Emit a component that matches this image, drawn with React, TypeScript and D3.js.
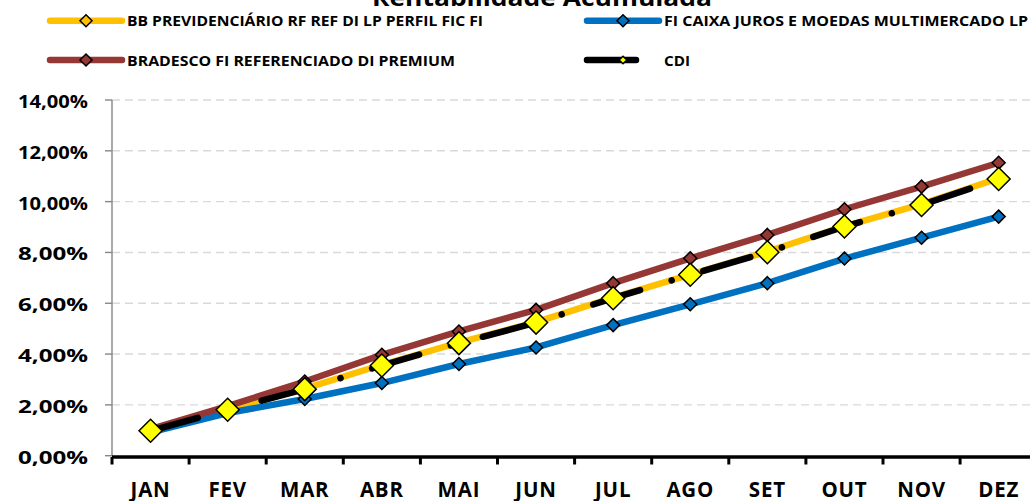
import React from "react";
import * as d3 from "d3";

const months = ["JAN", "FEV", "MAR", "ABR", "MAI", "JUN", "JUL", "AGO", "SET", "OUT", "NOV", "DEZ"];
const bbValues = [0.97, 1.8, 2.64, 3.58, 4.45, 5.26, 6.22, 7.13, 8.03, 9.03, 9.9, 10.92];
const caixaValues = [0.92, 1.68, 2.23, 2.86, 3.61, 4.26, 5.14, 5.96, 6.79, 7.76, 8.58, 9.41];
const bradescoValues = [1.05, 1.95, 2.92, 3.97, 4.89, 5.74, 6.79, 7.77, 8.69, 9.7, 10.59, 11.53];
const cdiValues = [0.98, 1.81, 2.62, 3.55, 4.43, 5.24, 6.2, 7.12, 8.01, 9.02, 9.87, 10.89];
const yTicks = [0, 2, 4, 6, 8, 10, 12, 14];
const title = "Rentabilidade Acumulada";

type Series = {
  name: string;
  values: number[];
  color: string;
  markerFill: string;
  markerR: number;
  legendMarkerR: number;
  dash?: string;
  legendX: number;
  legendY: number;
  legendLen: number;
  textLen: number;
};

const series: Series[] = [
  { name: "BB PREVIDENCIÁRIO RF REF DI LP PERFIL FIC FI", values: bbValues, color: "#FFC000", markerFill: "#FFC000", markerR: 6.5, legendMarkerR: 6, legendX: 50, legendY: 20.7, legendLen: 72, textLen: 356 },
  { name: "FI CAIXA JUROS E MOEDAS MULTIMERCADO LP", values: caixaValues, color: "#0070C0", markerFill: "#0070C0", markerR: 6.5, legendMarkerR: 6, legendX: 587, legendY: 20.7, legendLen: 72, textLen: 364 },
  { name: "BRADESCO FI REFERENCIADO DI PREMIUM", values: bradescoValues, color: "#953735", markerFill: "#953735", markerR: 6.5, legendMarkerR: 6, legendX: 50, legendY: 60, legendLen: 72, textLen: 328 },
  { name: "CDI", values: cdiValues, color: "#000000", markerFill: "#FFFF00", markerR: 11.5, legendMarkerR: 3.8, dash: "49,33,0.1,33", legendX: 587, legendY: 60, legendLen: 72, textLen: 26 },
];

const W = 1030;
const H = 501;
const plotLeft = 112;
const step = 77.1;
const plotRight = plotLeft + step * 12;
const yTop = 100;
const yBottom = 455.7;

const FONT = "'Open Sans', 'Noto Sans', sans-serif";

function diamond(r: number) {
  return `M0,${-r}L${r},0L0,${r}L${-r},0Z`;
}

export default function App() {
  const x = d3.scaleBand<string>().domain(months).range([plotLeft, plotRight]).paddingInner(0).paddingOuter(0);
  const y = d3.scaleLinear().domain([0, 14]).range([yBottom, yTop]);
  const cx = (m: string) => (x(m) as number) + x.bandwidth() / 2;
  const line = d3
    .line<number>()
    .x((_, i) => cx(months[i]))
    .y((v) => y(v));

  return (
    <svg width={W} height={H} style={{ position: "absolute", left: 0, top: 0, background: "#fff" }} fontFamily={FONT}>
      {/* title (partially cut off) */}
      <text x={542} y={5.5} textAnchor="middle" fontSize={24} fontWeight={700} textLength={340} lengthAdjust="spacingAndGlyphs">
        {title}
      </text>

      {/* legend */}
      {series.map((s) => (
        <g key={"lg" + s.name}>
          <line
            x1={s.legendX}
            x2={s.legendX + s.legendLen}
            y1={s.legendY}
            y2={s.legendY}
            stroke={s.color}
            strokeWidth={6.5}
            strokeLinecap="round"
            strokeDasharray={s.dash}
          />
          <path
            d={diamond(s.legendMarkerR)}
            transform={`translate(${s.legendX + 36},${s.legendY})`}
            fill={s.markerFill}
            stroke="#000"
            strokeWidth={1.5}
          />
          <text
            x={s.legendX + 77}
            y={s.legendY + 5.5}
            fontSize={15}
            fontWeight={700}
            textLength={s.textLen}
            lengthAdjust="spacingAndGlyphs"
          >
            {s.name}
          </text>
        </g>
      ))}

      {/* gridlines */}
      {yTicks
        .filter((t) => t > 0)
        .map((t) => (
          <line
            key={"g" + t}
            x1={plotLeft}
            x2={plotRight}
            y1={y(t)}
            y2={y(t)}
            stroke="#D9D9D9"
            strokeWidth={1.4}
            strokeDasharray="8,5"
          />
        ))}

      {/* y axis */}
      <line x1={plotLeft} x2={plotLeft} y1={yTop} y2={yBottom} stroke="#868686" strokeWidth={1.4} />
      {yTicks.map((t) => (
        <g key={"yt" + t}>
          <line x1={plotLeft - 7} x2={plotLeft} y1={y(t)} y2={y(t)} stroke="#868686" strokeWidth={1.4} />
          <text
            x={88}
            y={y(t) + 1}
            textAnchor="end"
            dominantBaseline="central"
            fontSize={17.5}
            fontWeight={700}
            textLength={70}
            lengthAdjust="spacingAndGlyphs"
          >
            {t.toFixed(2).replace(".", ",") + "%"}
          </text>
        </g>
      ))}

      {/* series lines */}
      {series.map((s) => (
        <path
          key={"l" + s.name}
          d={line(s.values) || ""}
          fill="none"
          stroke={s.color}
          strokeWidth={6.5}
          strokeLinecap="round"
          strokeLinejoin="round"
          strokeDasharray={s.dash}
        />
      ))}

      {/* markers */}
      {series.map((s) =>
        s.values.map((v, i) => (
          <path
            key={"m" + s.name + i}
            d={diamond(s.markerR)}
            transform={`translate(${cx(months[i])},${y(v)})`}
            fill={s.markerFill}
            stroke="#000"
            strokeWidth={1.5}
            strokeLinejoin="miter"
          />
        ))
      )}

      {/* x axis */}
      <line x1={plotLeft} x2={plotRight} y1={457} y2={457} stroke="#000" strokeWidth={3.5} />
      {d3.range(0, 13).map((k) => (
        <line
          key={"xt" + k}
          x1={plotLeft + step * k}
          x2={plotLeft + step * k}
          y1={457}
          y2={464.5}
          stroke="#000"
          strokeWidth={3}
        />
      ))}
      {months.map((m) => (
        <text key={"xl" + m} x={cx(m)} y={496.5} textAnchor="middle" fontSize={20.5} fontWeight={700} letterSpacing={0.8}>
          {m}
        </text>
      ))}
    </svg>
  );
}
